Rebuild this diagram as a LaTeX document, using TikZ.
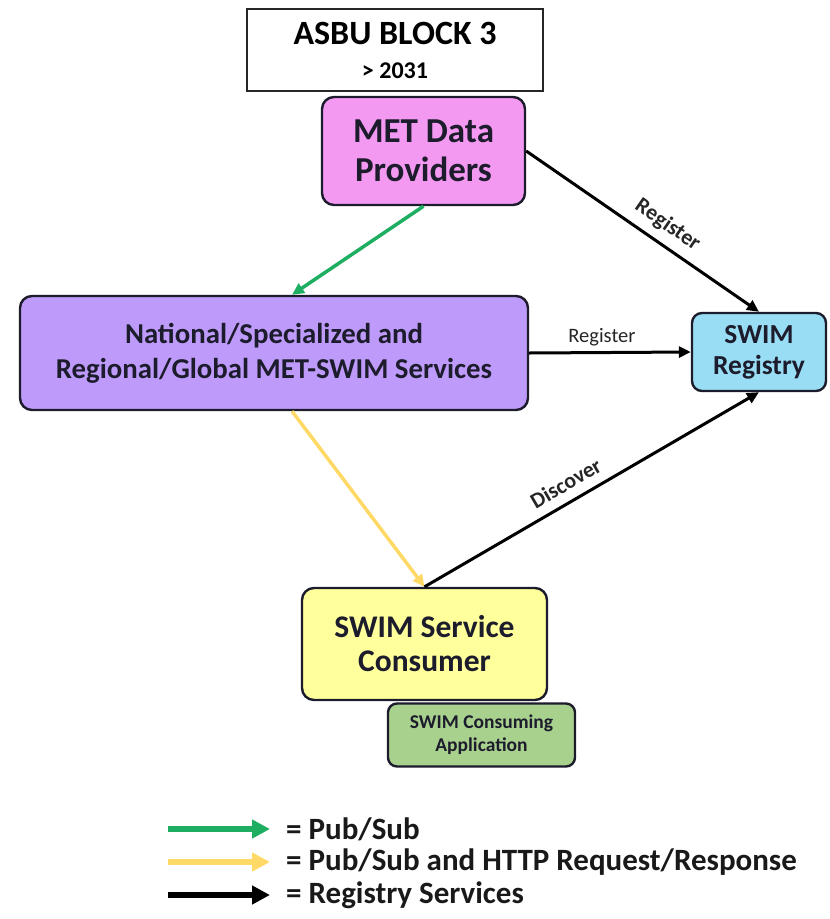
\documentclass[tikz,border=0pt]{standalone}
\usepackage{fontspec}
\setmainfont{Carlito}
\usetikzlibrary{arrows.meta}
\definecolor{metpink}{HTML}{F499F2}
\definecolor{natpurple}{HTML}{BE9BFA}
\definecolor{regblue}{HTML}{99DDF5}
\definecolor{conyellow}{HTML}{FFFF9C}
\definecolor{appgreen}{HTML}{A9D18E}
\definecolor{edgedark}{HTML}{1C1C2C}
\definecolor{pubgreen}{HTML}{1EAE62}
\definecolor{pubyellow}{HTML}{FFD966}
\begin{document}
\begin{tikzpicture}[x=1pt, y=-1pt,
    box/.style={draw=edgedark, line width=2.4pt, rounded corners=12pt, align=center,
        inner sep=0pt, text=edgedark},
    regline/.style={line width=3pt, -{Triangle[length=12pt, width=11pt]}},
    lbl/.style={font=\fontsize{20.5}{22}\selectfont, text=black!85},
    diaglbl/.style={font=\fontsize{22}{24}\selectfont\bfseries, text=black!85}]
    \useasboundingbox (0,0) rectangle (830,919);
    \node [draw=black!85, line width=1.3pt, minimum width=296pt, minimum height=82pt, align=center, inner sep=0pt,
        font=\fontsize{34}{34}\selectfont\bfseries]
        (asbu) at (395,50) {ASBU BLOCK 3\\{\fontsize{24}{34}\selectfont > 2031}};
    \node [box, fill=metpink, minimum width=203pt, minimum height=108pt, font=\fontsize{35}{39}\selectfont\bfseries]
        (met) at (423.5,151) {MET Data\\Providers};
    \node [box, fill=natpurple, minimum width=508pt, minimum height=114pt, font=\fontsize{28.8}{35}\selectfont\bfseries]
        (national) at (274,353) {National/Specialized and\\Regional/Global MET-SWIM Services};
    \node [box, fill=regblue, minimum width=134pt, minimum height=78pt, rounded corners=10pt, font=\fontsize{27.5}{31}\selectfont\bfseries]
        (registry) at (759,352) {SWIM\\Registry};
    \node [box, fill=appgreen, minimum width=187pt, minimum height=63pt, rounded corners=9pt, font=\fontsize{19.5}{23}\selectfont\bfseries]
        (app) at (481.5,735) {SWIM Consuming\\Application};
    \node [box, fill=conyellow, minimum width=245pt, minimum height=112pt, font=\fontsize{31.5}{34}\selectfont\bfseries]
        (consumer) at (424.5,644) {SWIM Service\\Consumer};
    \draw [line width=3.5pt, pubgreen, -{Triangle[length=12pt, width=11pt]}] (met.south) -- ([xshift=18pt]national.north);
    \draw [line width=3.5pt, pubyellow, -{Triangle[length=12pt, width=11pt]}] ([xshift=18pt]national.south) -- (consumer.north);
    \draw [regline] (met.east) -- node [diaglbl, sloped, above=5pt, pos=0.56] {Register} (registry.north);
    \draw [regline] (national.east) -- node [lbl, above=2pt, pos=0.45] {Register} (registry.west);
    \draw [regline] (consumer.north) -- node [diaglbl, sloped, above=6pt, pos=0.45] {Discover} (registry.south);
    \coordinate (pubA) at (168,829);
    \coordinate (pubB) at (270,829);
    \coordinate (httpA) at (168,862);
    \coordinate (httpB) at (270,862);
    \coordinate (rsA) at (168,895);
    \coordinate (rsB) at (270,895);
    \draw [line width=6pt, pubgreen, -{Triangle[length=18pt, width=18pt]}] (pubA) -- (pubB);
    \draw [line width=6pt, pubyellow, -{Triangle[length=18pt, width=18pt]}] (httpA) -- (httpB);
    \draw [line width=6pt, black, -{Triangle[length=18pt, width=18pt]}] (rsA) -- (rsB);
    \begin{scope}[every node/.style={anchor=west, font=\fontsize{31}{34}\selectfont\bfseries, text=black!90, inner sep=0pt}]
        \node (pubtxt) at ([xshift=16pt]pubB) {= Pub/Sub};
        \node (httptxt) at ([xshift=16pt]httpB) {= Pub/Sub and HTTP Request/Response};
        \node (rstxt) at ([xshift=16pt]rsB) {= Registry Services};
    \end{scope}
\end{tikzpicture}
\end{document}
